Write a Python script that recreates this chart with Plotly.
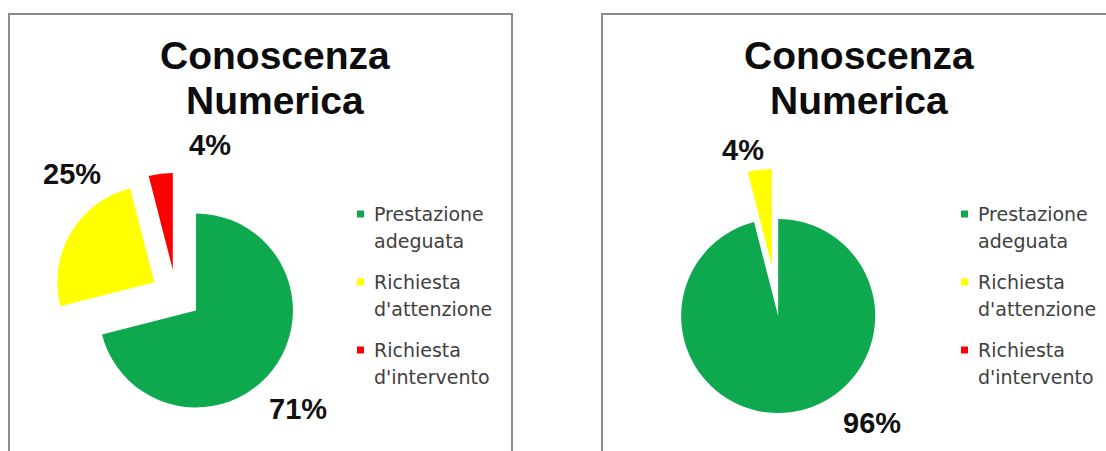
import plotly.graph_objects as go

# Figure size in pixels
W, H = 1106, 451

# ---- data ----
categories = ["Prestazione<br>adeguata", "Richiesta<br>d'attenzione", "Richiesta<br>d'intervento"]
slice_colors = ["#0EA94F", "#FFFF00", "#FF0000"]
values_left = [71, 25, 4]
values_right = [96, 4, 0]
title_lines = ["Conoscenza", "Numerica"]
explode = 0.26  # every slice pulled out by the same fraction of the radius


def pct_text(vals):
    tot = sum(vals)
    return [f"{round(v / tot * 100)}%" if v > 0 else "" for v in vals]


def fx(x):
    return x / W


def fy(y):
    return 1 - y / H


# layout of each chart panel (pixel positions)
panels = [
    dict(values=values_left, box=(9, 512), center=(176, 295), radius=97,
         title_x=275, legend_x=360.5,
         label_pos=[(298, 409), (72, 174), (210, 145)]),
    dict(values=values_right, box=(602, 1125), center=(775, 291), radius=97,
         title_x=859, legend_x=964.5,
         label_pos=[(872, 423), (743, 150), (760, 140)]),
]

label_font = dict(family="Liberation Sans", size=29, weight="bold", color="#111111")

fig = go.Figure()
shapes = []
annotations = []

for p in panels:
    cx, cy = p["center"]
    half = p["radius"] * (1 + explode)
    fig.add_trace(go.Pie(
        labels=categories,
        values=p["values"],
        textinfo="none",
        automargin=False,
        marker=dict(colors=slice_colors, line=dict(width=0)),
        pull=[explode] * len(p["values"]),
        sort=False,
        direction="clockwise",
        rotation=0,
        showlegend=False,
        domain=dict(x=[fx(cx - half), fx(cx + half)], y=[fy(cy + half), fy(cy - half)]),
    ))

    # percentage labels next to the slices
    for txt, (lx_, ly_) in zip(pct_text(p["values"]), p["label_pos"]):
        if txt:
            annotations.append(dict(text=txt, xref="paper", yref="paper",
                                    x=fx(lx_), y=fy(ly_), xanchor="center", yanchor="middle",
                                    showarrow=False, font=label_font))

    # chart-area frame
    x0, x1 = p["box"]
    shapes.append(dict(type="rect", xref="paper", yref="paper",
                       x0=fx(x0), x1=fx(x1), y0=fy(480), y1=fy(14),
                       line=dict(color="#8C8C8C", width=2), fillcolor="rgba(0,0,0,0)"))

    # two-line chart title
    for line, ty in zip(title_lines, (56, 101)):
        annotations.append(dict(text=line, xref="paper", yref="paper",
                                x=fx(p["title_x"]), y=fy(ty), xanchor="center", yanchor="middle",
                                showarrow=False,
                                font=dict(family="Liberation Sans", size=39, weight="bold",
                                          color="#0D0D0D")))

    # legend: square swatch + label lines
    lx = p["legend_x"]
    for i, (cat, col) in enumerate(zip(categories, slice_colors)):
        row_y = 214 + 68 * i
        shapes.append(dict(type="rect", xref="paper", yref="paper",
                           x0=fx(lx - 3.5), x1=fx(lx + 3.5), y0=fy(row_y + 3.5), y1=fy(row_y - 3.5),
                           line=dict(width=0), fillcolor=col))
        for j, part in enumerate(cat.split("<br>")):
            annotations.append(dict(text=part, xref="paper", yref="paper",
                                    x=fx(lx + 11), y=fy(row_y + 27 * j),
                                    xanchor="left", yanchor="middle", showarrow=False,
                                    font=dict(family="DejaVu Sans", size=19, color="#404040")))

fig.update_layout(
    width=W, height=H,
    margin=dict(l=0, r=0, t=0, b=0, autoexpand=False),
    paper_bgcolor="white", plot_bgcolor="white",
    shapes=shapes, annotations=annotations,
)

fig.write_html("out.html")
